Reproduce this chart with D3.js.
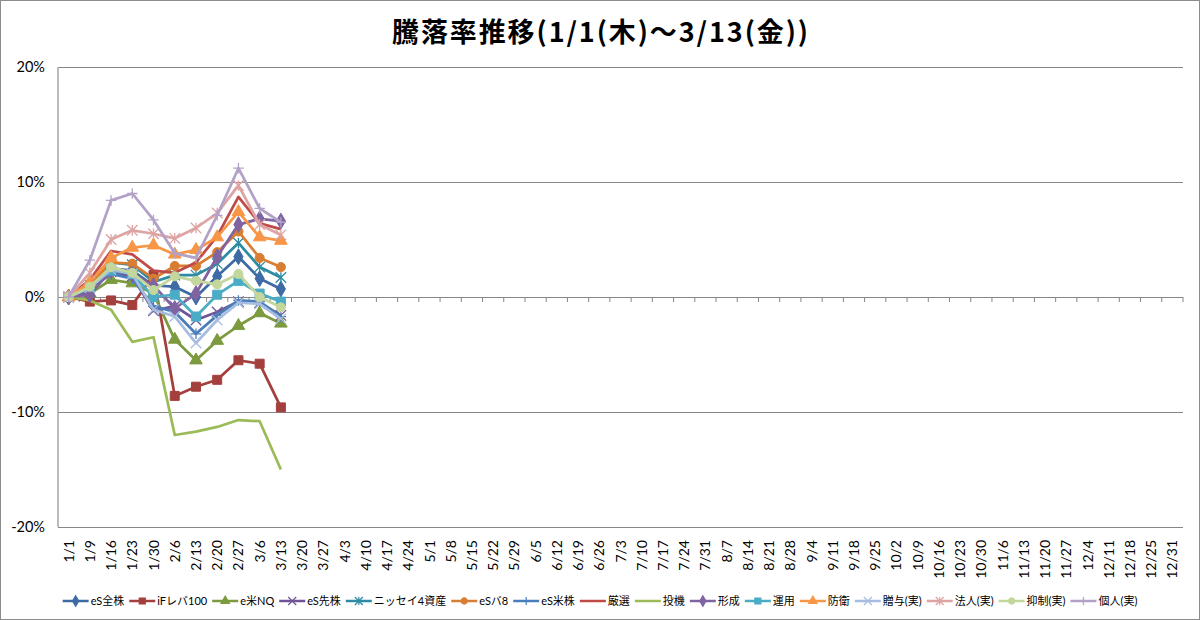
<!DOCTYPE html>
<html>
<head>
<meta charset="utf-8">
<script src="https://cdn.jsdelivr.net/npm/d3@7"></script>
<style>
  body { margin: 0; background: #fff; overflow: hidden; }
  svg { display: block; }
</style>
</head>
<body>
<script>
// categories (weekly dates)
const dates = ["1/1","1/9","1/16","1/23","1/30","2/6","2/13","2/20","2/27","3/6","3/13","3/20","3/27",
  "4/3","4/10","4/17","4/24","5/1","5/8","5/15","5/22","5/29","6/5","6/12","6/19","6/26",
  "7/3","7/10","7/17","7/24","7/31","8/7","8/14","8/21","8/28","9/4","9/11","9/18","9/25",
  "10/2","10/9","10/16","10/23","10/30","11/6","11/13","11/20","11/27","12/4","12/11","12/18","12/25","12/31"];

// series values (%), 1/1 .. 3/13
const eSzenkabu  = [0, 0.8, 2.5, 2.3, 1.0, 0.9, 0.0, 1.8, 3.5, 1.6, 0.7];
const ifLev100   = [0, -0.4, -0.3, -0.7, 1.9, -8.6, -7.8, -7.2, -5.5, -5.8, -9.6];
const eBeiNQ     = [0, 0.3, 1.5, 1.2, 0.3, -3.7, -5.5, -3.8, -2.5, -1.4, -2.3];
const eSsenkabu  = [0, 0.5, 2.2, 1.8, -1.2, -0.8, -2.0, -1.3, -0.4, -0.5, -1.6];
const nissay4    = [0, 1.0, 3.0, 2.8, 1.3, 1.9, 1.9, 2.9, 4.7, 2.6, 1.7];
const eSba8      = [0, 1.1, 3.0, 2.9, 1.6, 2.7, 2.7, 3.9, 5.7, 3.4, 2.6];
const eSbeikabu  = [0, 0.7, 2.0, 1.6, -0.8, -1.3, -3.2, -1.6, -0.3, -0.4, -1.7];
const gensen     = [0, 1.5, 4.0, 3.7, 2.3, 2.1, 3.0, 5.3, 8.7, 6.4, 5.9];
const touki      = [0, -0.3, -1.1, -3.9, -3.5, -12.0, -11.7, -11.3, -10.7, -10.8, -15.0];
const keisei     = [0, 0.2, 2.3, 2.0, 1.0, -1.0, 0.3, 3.5, 6.3, 6.8, 6.6];
const unyou      = [0, 0.9, 2.3, 2.0, 0.0, 0.2, -1.7, 0.2, 1.4, 0.3, -0.4];
const bouei      = [0, 1.3, 3.4, 4.3, 4.5, 3.7, 4.1, 5.2, 7.4, 5.2, 4.9];
const zouyo      = [0, 0.8, 2.4, 2.0, -1.1, -1.7, -4.0, -2.0, -0.5, -0.6, -1.9];
const houjin     = [0, 2.1, 5.0, 5.8, 5.5, 5.1, 6.0, 7.3, 9.7, 6.3, 5.4];
const yokusei    = [0, 0.9, 2.6, 2.1, 0.6, 1.8, 1.4, 1.1, 2.0, 0.0, -0.9];
const kojin      = [0, 3.2, 8.4, 9.0, 6.7, 3.8, 3.4, 7.1, 11.2, 7.7, 6.5];

const seriesNames = ["eS全株","iFレバ100","e米NQ","eS先株","ニッセイ4資産","eSバ8","eS米株","厳選",
  "投機","形成","運用","防衛","贈与(実)","法人(実)","抑制(実)","個人(実)"];
const seriesValues = [eSzenkabu, ifLev100, eBeiNQ, eSsenkabu, nissay4, eSba8, eSbeikabu, gensen,
  touki, keisei, unyou, bouei, zouyo, houjin, yokusei, kojin];
const seriesColors = ["#3E6BA5","#A3403D","#7C9A3E","#6F5597","#2E8BA3","#D87E33","#4A7EBB","#BE4B48",
  "#9BBB59","#8064A2","#4BACC6","#F79646","#A7BDE0","#DDA4A3","#C3D69B","#B3A2C7"];
const seriesMarkers = ["diamond","square","triangle","x","star","circle","plus","none",
  "none","diamond","square","triangle","x","star","circle","plus"];

const yTicks = [-20, -10, 0, 10, 20];
const title = "騰落率推移(1/1(木)～3/13(金))";

const width = 1200, height = 620;
const plotLeft = 58, plotRight = 1183, plotTop = 67, plotBottom = 527;

const svg = d3.select("body").append("svg")
  .attr("width", width)
  .attr("height", height);

// chart border
svg.append("rect")
  .attr("x", 0.5).attr("y", 0.5)
  .attr("width", width - 1).attr("height", height - 1)
  .attr("fill", "#fff")
  .attr("stroke", "#8c8c8c");

// title
svg.append("text")
  .attr("x", 600).attr("y", 42)
  .attr("text-anchor", "middle")
  .attr("font-family", "'Noto Sans CJK JP'")
  .attr("font-weight", "bold")
  .attr("font-size", 27)
  .attr("textLength", 416)
  .attr("lengthAdjust", "spacing")
  .text(title);

const x = d3.scaleBand()
  .domain(dates)
  .range([plotLeft, plotRight])
  .padding(0);
const cx = d => x(d) + x.bandwidth() / 2;

const y = d3.scaleLinear()
  .domain([-20, 20])
  .range([plotBottom, plotTop]);

// gridlines + y labels
const yAxis = svg.append("g")
  .attr("transform", "translate(" + plotLeft + ",0)")
  .call(d3.axisLeft(y)
    .tickValues(yTicks)
    .tickSize(-(plotRight - plotLeft))
    .tickPadding(13)
    .tickFormat(d => d + "%"));
yAxis.select(".domain").remove();
yAxis.selectAll(".tick line").attr("stroke", "#868686");
yAxis.selectAll(".tick text")
  .attr("font-family", "Lato, 'Liberation Sans'")
  .attr("font-size", 14.5)
  .attr("fill", "#000");

// vertical axis line
svg.append("line")
  .attr("x1", plotLeft).attr("x2", plotLeft)
  .attr("y1", plotTop).attr("y2", plotBottom)
  .attr("stroke", "#a6a6a6")
  .attr("stroke-width", 1.5);

// category tick marks on the 0 line (between categories)
svg.append("g").selectAll("line")
  .data(dates.slice(1).concat(["end"]))
  .enter()
  .append("line")
  .attr("x1", (d, i) => i < dates.length - 1 ? x(d) : plotRight)
  .attr("x2", (d, i) => i < dates.length - 1 ? x(d) : plotRight)
  .attr("y1", y(0))
  .attr("y2", y(0) + 5)
  .attr("stroke", "#868686");

// category labels at the bottom
const xAxis = svg.append("g")
  .attr("transform", "translate(0," + plotBottom + ")")
  .call(d3.axisBottom(x).tickSize(0).tickPadding(0));
xAxis.select(".domain").remove();
xAxis.selectAll(".tick text")
  .attr("font-family", "Lato, 'Liberation Sans'")
  .attr("font-size", 14)
  .attr("fill", "#000")
  .attr("text-anchor", "end")
  .attr("transform", "translate(0,13) rotate(-90)")
  .attr("x", 0)
  .attr("y", 0)
  .attr("dy", "0.36em");

// marker paths
function markerPath(type, s) {
  if (type === "diamond") return d3.symbol(d3.symbolDiamond, s * s * 0.9)();
  if (type === "square") return d3.symbol(d3.symbolSquare, s * s)();
  if (type === "triangle") return d3.symbol(d3.symbolTriangle, s * s * 0.85)();
  if (type === "circle") return d3.symbol(d3.symbolCircle, s * s * 0.8)();
  const h = s / 2;
  if (type === "x") return "M" + (-h) + "," + (-h) + "L" + h + "," + h + "M" + (-h) + "," + h + "L" + h + "," + (-h);
  if (type === "star") return "M" + (-h) + "," + (-h) + "L" + h + "," + h + "M" + (-h) + "," + h + "L" + h + "," + (-h) + "M0," + (-h) + "L0," + h;
  if (type === "plus") return "M" + (-h) + ",0L" + h + ",0M0," + (-h) + "L0," + h;
  return null;
}
const filled = t => t === "diamond" || t === "square" || t === "triangle" || t === "circle";

const line = d3.line()
  .x((d, i) => cx(dates[i]))
  .y(d => y(d));

seriesValues.forEach((vals, k) => {
  const g = svg.append("g");
  g.append("path")
    .datum(vals)
    .attr("fill", "none")
    .attr("stroke", seriesColors[k])
    .attr("stroke-width", 2.75)
    .attr("stroke-linejoin", "round")
    .attr("d", line);
  const m = seriesMarkers[k];
  if (m !== "none") {
    g.selectAll(".mk")
      .data(vals)
      .enter()
      .append("path")
      .attr("class", "mk")
      .attr("transform", (d, i) => "translate(" + cx(dates[i]) + "," + y(d) + ")")
      .attr("d", markerPath(m, filled(m) ? 9 : 10.5))
      .attr("fill", filled(m) ? seriesColors[k] : "none")
      .attr("stroke", seriesColors[k])
      .attr("stroke-width", filled(m) ? 1 : 1.3);
  }
});

// legend
const legend = svg.append("g");
const legendY = 601;
let lx = 0;
seriesNames.forEach((name, k) => {
  const item = legend.append("g");
  item.append("line")
    .attr("x1", 0).attr("x2", 26)
    .attr("y1", legendY).attr("y2", legendY)
    .attr("stroke", seriesColors[k])
    .attr("stroke-width", 2.5);
  const m = seriesMarkers[k];
  if (m !== "none") {
    item.append("path")
      .attr("transform", "translate(13," + legendY + ")")
      .attr("d", markerPath(m, filled(m) ? 6 : 8))
      .attr("fill", filled(m) ? seriesColors[k] : "none")
      .attr("stroke", seriesColors[k])
      .attr("stroke-width", 1.2);
  }
  const t = item.append("text")
    .attr("x", 28)
    .attr("y", legendY)
    .attr("dy", "0.35em")
    .attr("font-family", "Lato, 'Noto Sans CJK JP'")
    .attr("font-size", 11)
    .attr("fill", "#000")
    .text(name);
  const w = 28 + t.node().getComputedTextLength();
  item.attr("transform", "translate(" + lx + ",0)");
  lx += w + 5;
});
const totalW = lx - 5;
legend.attr("transform", "translate(" + (600 - totalW / 2) + ",0)");
</script>
</body>
</html>
